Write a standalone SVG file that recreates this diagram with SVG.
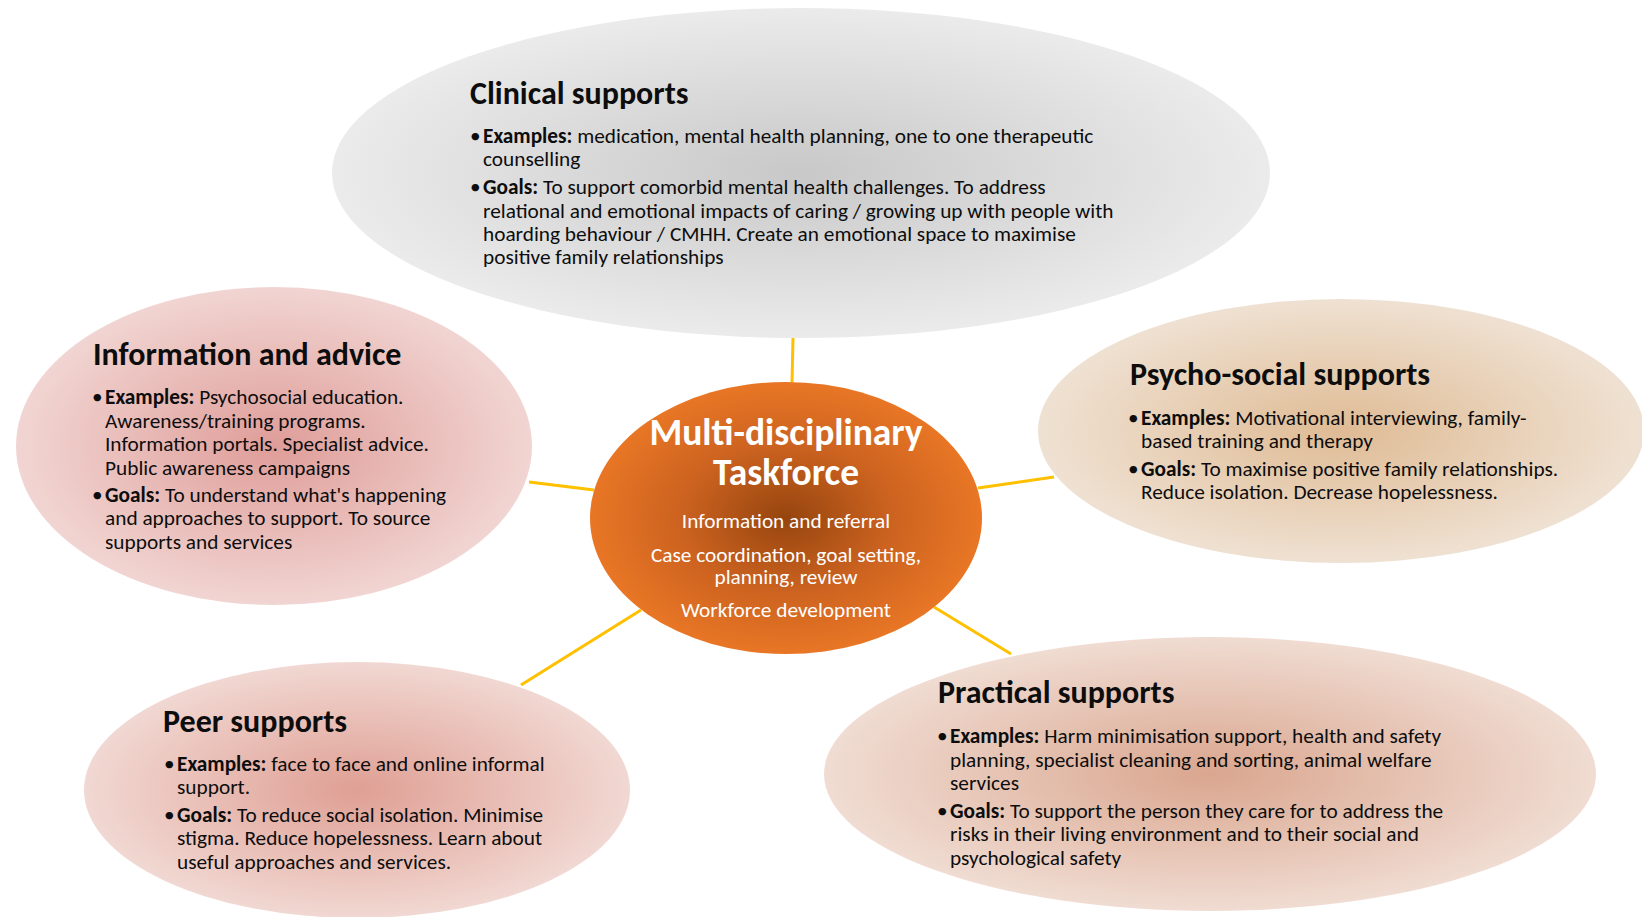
<svg xmlns="http://www.w3.org/2000/svg" width="1642" height="917" viewBox="0 0 1642 917">
<defs>
<radialGradient id="gGrey" cx="50%" cy="50%" r="50%"><stop offset="0" stop-color="#c8c8c8"/><stop offset="1" stop-color="#ebebeb"/></radialGradient>
<radialGradient id="gPink" cx="50%" cy="50%" r="50%"><stop offset="0" stop-color="#df9d99"/><stop offset="1" stop-color="#f1d5d2"/></radialGradient>
<radialGradient id="gTan" cx="50%" cy="50%" r="50%"><stop offset="0" stop-color="#dfbb94"/><stop offset="1" stop-color="#efe1d2"/></radialGradient>
<radialGradient id="gPeer" cx="50%" cy="50%" r="50%"><stop offset="0" stop-color="#df9f94"/><stop offset="1" stop-color="#f1d8d2"/></radialGradient>
<radialGradient id="gPrac" cx="50%" cy="50%" r="50%"><stop offset="0" stop-color="#daa68f"/><stop offset="1" stop-color="#f0dcd2"/></radialGradient>
<radialGradient id="gCore" cx="50%" cy="50%" r="50%"><stop offset="0" stop-color="#96450f"/><stop offset="0.55" stop-color="#cd6320"/><stop offset="1" stop-color="#e87625"/></radialGradient>
</defs>
<style>
.t{font-family:"Carlito","Lato","Liberation Sans",sans-serif;font-size:32px;font-weight:bold;fill:#0d0d0d}
.b{font-family:"Carlito","Lato","Liberation Sans",sans-serif;font-size:21.3px;fill:#0d0d0d}
.k{font-weight:bold}
.ct{font-family:"Carlito","Lato","Liberation Sans",sans-serif;font-size:37.5px;font-weight:bold;fill:#ffffff;text-anchor:middle}
.cb{font-family:"Carlito","Lato","Liberation Sans",sans-serif;font-size:21.3px;fill:#ffffff;text-anchor:middle}
.c{stroke:#ffc000;stroke-width:3;fill:none}
</style>
<rect width="1642" height="917" fill="#ffffff"/>
<g id="connectors">
<line class="c" x1="793" y1="338" x2="792" y2="383"/>
<line class="c" x1="529" y1="482" x2="594" y2="490"/>
<line class="c" x1="978" y1="488" x2="1054" y2="477"/>
<line class="c" x1="521" y1="685" x2="641" y2="610"/>
<line class="c" x1="934" y1="607" x2="1011" y2="654"/>
</g>
<g id="clinical">
<ellipse cx="801" cy="173" rx="469" ry="165" fill="url(#gGrey)"/>
<text class="t" x="470" y="104">Clinical supports</text>
<text class="b" x="470" y="143">•</text>
<text class="b" x="483" y="143"><tspan class="k">Examples:</tspan> medication, mental health planning, one to one therapeutic</text>
<text class="b" x="483" y="166">counselling</text>
<text class="b" x="470" y="194">•</text>
<text class="b" x="483" y="194"><tspan class="k">Goals:</tspan> To support comorbid mental health challenges. To address</text>
<text class="b" x="483" y="218">relational and emotional impacts of caring / growing up with people with</text>
<text class="b" x="483" y="241">hoarding behaviour / CMHH. Create an emotional space to maximise</text>
<text class="b" x="483" y="264">positive family relationships</text>
</g>
<g id="information">
<ellipse cx="274" cy="446" rx="258" ry="159" fill="url(#gPink)"/>
<text class="t" x="93" y="365">Information and advice</text>
<text class="b" x="92" y="404">•</text>
<text class="b" x="105" y="404"><tspan class="k">Examples:</tspan> Psychosocial education.</text>
<text class="b" x="105" y="428">Awareness/training programs.</text>
<text class="b" x="105" y="451">Information portals. Specialist advice.</text>
<text class="b" x="105" y="475">Public awareness campaigns</text>
<text class="b" x="92" y="502">•</text>
<text class="b" x="105" y="502"><tspan class="k">Goals:</tspan> To understand what's happening</text>
<text class="b" x="105" y="525">and approaches to support. To source</text>
<text class="b" x="105" y="549">supports and services</text>
</g>
<g id="taskforce">
<ellipse cx="786" cy="518" rx="196" ry="136" fill="url(#gCore)"/>
<text class="ct" x="786" y="445">Multi-disciplinary<tspan x="786" y="485">Taskforce</tspan></text>
<text class="cb" x="786" y="528">Information and referral</text>
<text class="cb" x="786" y="562">Case coordination, goal setting,<tspan x="786" y="584">planning, review</tspan></text>
<text class="cb" x="786" y="617">Workforce development</text>
</g>
<g id="psychosocial">
<ellipse cx="1341" cy="431" rx="303" ry="132" fill="url(#gTan)"/>
<text class="t" x="1130" y="385">Psycho-social supports</text>
<text class="b" x="1128" y="425">•</text>
<text class="b" x="1141" y="425"><tspan class="k">Examples:</tspan> Motivational interviewing, family-</text>
<text class="b" x="1141" y="448">based training and therapy</text>
<text class="b" x="1128" y="476">•</text>
<text class="b" x="1141" y="476"><tspan class="k">Goals:</tspan> To maximise positive family relationships.</text>
<text class="b" x="1141" y="499">Reduce isolation. Decrease hopelessness.</text>
</g>
<g id="peer">
<ellipse cx="357" cy="790" rx="273" ry="128" fill="url(#gPeer)"/>
<text class="t" x="163" y="732">Peer supports</text>
<text class="b" x="164" y="771">•</text>
<text class="b" x="177" y="771"><tspan class="k">Examples:</tspan> face to face and online informal</text>
<text class="b" x="177" y="794">support.</text>
<text class="b" x="164" y="822">•</text>
<text class="b" x="177" y="822"><tspan class="k">Goals:</tspan> To reduce social isolation. Minimise</text>
<text class="b" x="177" y="845">stigma. Reduce hopelessness. Learn about</text>
<text class="b" x="177" y="869">useful approaches and services.</text>
</g>
<g id="practical">
<ellipse cx="1210" cy="774" rx="386" ry="137" fill="url(#gPrac)"/>
<text class="t" x="938" y="703">Practical supports</text>
<text class="b" x="937" y="743">•</text>
<text class="b" x="950" y="743"><tspan class="k">Examples:</tspan> Harm minimisation support, health and safety</text>
<text class="b" x="950" y="767">planning, specialist cleaning and sorting, animal welfare</text>
<text class="b" x="950" y="790">services</text>
<text class="b" x="937" y="818">•</text>
<text class="b" x="950" y="818"><tspan class="k">Goals:</tspan> To support the person they care for to address the</text>
<text class="b" x="950" y="841">risks in their living environment and to their social and</text>
<text class="b" x="950" y="865">psychological safety</text>
</g>
</svg>
